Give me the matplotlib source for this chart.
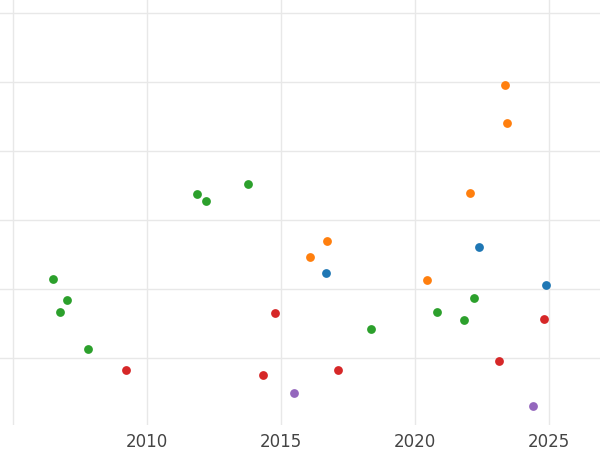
import matplotlib
matplotlib.use("Agg")
import matplotlib.pyplot as plt

orange_x = [2023.36, 2023.43, 2022.05, 2016.72, 2016.08, 2020.45]
orange_y = [4.96, 4.41, 3.39, 2.70, 2.46, 2.13]
blue_x = [2022.39, 2016.68, 2024.89]
blue_y = [2.61, 2.23, 2.06]
green_x = [2006.49, 2007.01, 2006.75, 2007.80, 2011.87, 2012.20, 2013.77, 2018.36, 2020.82, 2021.83, 2022.20]
green_y = [2.14, 1.84, 1.67, 1.13, 3.38, 3.28, 3.52, 1.42, 1.67, 1.55, 1.87]
red_x = [2009.22, 2014.78, 2014.33, 2017.13, 2023.13, 2024.81]
red_y = [0.83, 1.65, 0.75, 0.83, 0.96, 1.57]
purple_x = [2015.49, 2024.40]
purple_y = [0.49, 0.30]
xticks = [2010, 2015, 2020, 2025]

fig = plt.figure(figsize=(6, 4.5), dpi=100)
ax = fig.add_axes([0, 450 - 425 and 25/450, 1, 425/450])
for xs, ys, c in [(blue_x, blue_y, "#1f77b4"), (orange_x, orange_y, "#ff7f0e"),
                  (green_x, green_y, "#2ca02c"), (red_x, red_y, "#d62728"),
                  (purple_x, purple_y, "#9467bd")]:
    ax.scatter(xs, ys, s=40, color=c, zorder=3, linewidths=0)
ax.set_xlim(2004.52, 2026.9)
ax.set_ylim(0.03, 6.19)
ax.set_xticks([2005] + xticks)
ax.set_xticklabels([""] + [str(t) for t in xticks], fontsize=12, color="#444444")
ax.set_yticks([1, 2, 3, 4, 5, 6])
ax.set_yticklabels([])
ax.grid(True, color="#e8e8e8", linewidth=1)
ax.tick_params(length=0, pad=6)
for s in ax.spines.values():
    s.set_visible(False)
fig.savefig("out.png", dpi=100)
